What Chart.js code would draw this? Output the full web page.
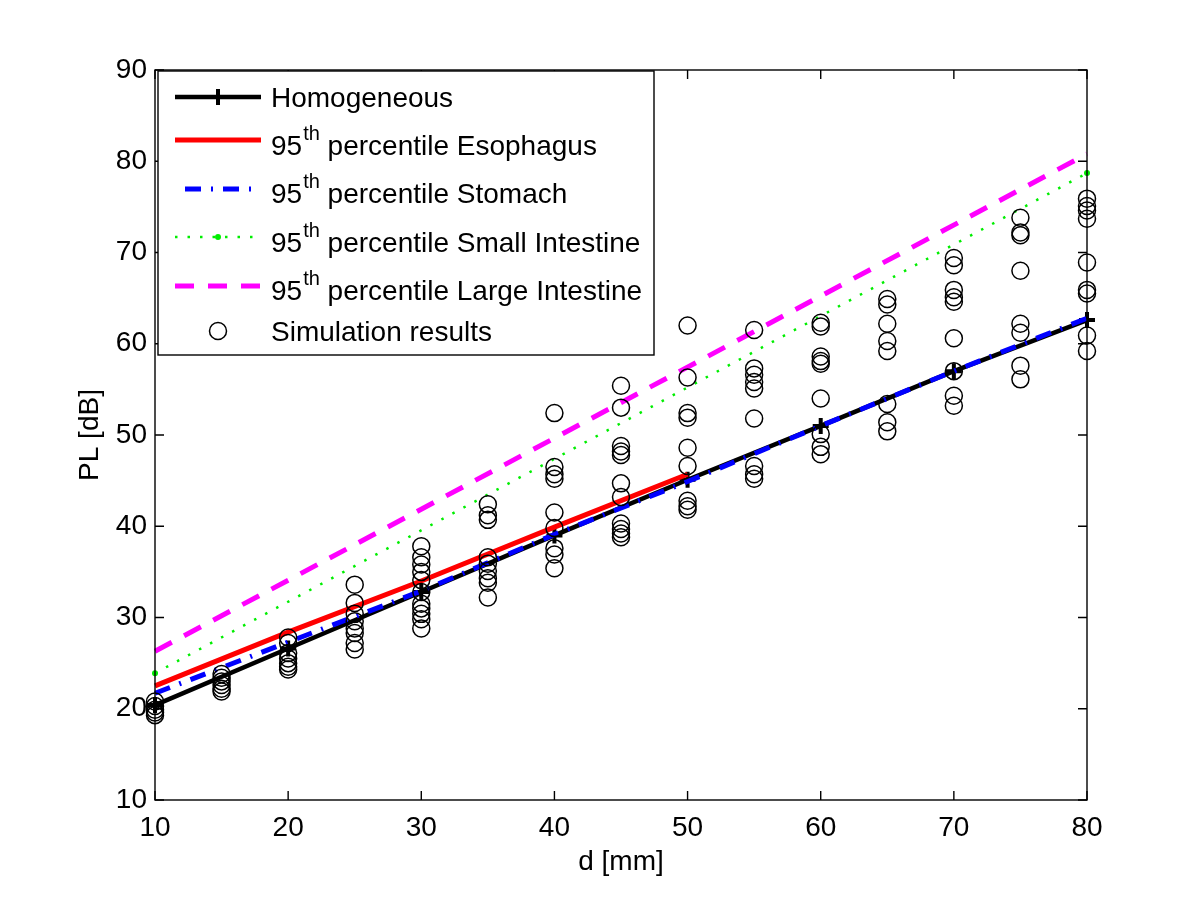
<!DOCTYPE html>
<html>
<head>
<meta charset="utf-8">
<script src="https://cdn.jsdelivr.net/npm/chart.js@4.4.0/dist/chart.umd.min.js"></script>
<style>
html, body { margin: 0; padding: 0; background: #fff; }
</style>
</head>
<body>
<canvas id="chart" width="1200" height="903"></canvas>
<script>
// values
var lineD            = [10, 20, 30, 40, 50, 60, 70, 80];
var homogeneousPL    = [20.4, 26.6, 32.8, 39.0, 45.1, 51.0, 57.0, 62.6];
var esophagusD       = [10, 20, 30, 40, 50];
var esophagusPL      = [22.5, 28.4, 34.0, 39.9, 45.7];
var stomachPL        = [21.7, 27.3, 32.9, 39.1, 44.9, 51.0, 57.0, 62.8];
var intestineD       = [10, 80];
var smallIntestinePL = [23.9, 78.7];
var largeIntestinePL = [26.3, 80.8];

var simD  = [10, 15, 20, 25, 30, 35, 40, 45, 50, 55, 60, 65, 70, 75, 80];
var simPL = [
    [20.8, 20.3, 19.9, 19.6, 19.3],
    [23.8, 23.4, 23.0, 22.6, 22.2, 21.9],
    [27.8, 27.2, 26.1, 25.5, 25.0, 24.6, 24.3],
    [33.6, 31.6, 30.4, 29.6, 28.8, 28.3, 27.2, 26.5],
    [37.8, 36.6, 35.8, 35.0, 34.1, 32.8, 31.5, 31.0, 30.4, 29.8, 28.8],
    [42.4, 41.2, 40.7, 36.6, 35.9, 35.1, 34.3, 33.8, 32.2],
    [52.4, 46.5, 45.7, 45.2, 41.5, 39.8, 37.6, 36.9, 35.4],
    [55.4, 53.0, 48.8, 48.2, 47.8, 44.7, 43.2, 40.3, 39.7, 39.2, 38.8],
    [62.0, 56.3, 52.4, 51.9, 48.6, 46.6, 42.8, 42.2, 41.8],
    [61.5, 57.3, 56.6, 55.8, 55.1, 51.8, 46.6, 45.7, 45.2],
    [62.3, 61.9, 58.6, 58.1, 57.8, 54.0, 50.1, 48.7, 47.9],
    [64.9, 64.3, 62.2, 60.3, 59.2, 53.4, 51.4, 50.4],
    [69.4, 68.6, 65.9, 65.1, 64.6, 60.6, 57.0, 54.3, 53.2],
    [73.8, 72.2, 71.9, 68.0, 62.2, 61.2, 57.6, 56.1],
    [75.9, 75.1, 74.6, 73.7, 68.9, 65.9, 65.5, 60.9, 59.2]
];

var FONT = '"Liberation Sans", Arial, Helvetica, sans-serif';

var pts = function(xs, ys) {
    return xs.map(function(x, i) { return {x: x, y: ys[i]}; });
};

var simPoints = [];
simD.forEach(function(d, i) {
    simPL[i].forEach(function(v) { simPoints.push({x: d, y: v}); });
});

// box + inward ticks on all four sides, like the original figure
var frame = {
    id: 'frame',
    afterDatasetsDraw: function(chart) {
        var ctx = chart.ctx, a = chart.chartArea;
        var xs = chart.scales.x, ys = chart.scales.y;
        ctx.save();
        ctx.strokeStyle = '#000';
        ctx.lineWidth = 1.4;
        ctx.setLineDash([]);
        ctx.strokeRect(a.left, a.top, a.right - a.left, a.bottom - a.top);
        ctx.beginPath();
        xs.ticks.forEach(function(t) {
            var px = xs.getPixelForValue(t.value);
            ctx.moveTo(px, a.bottom); ctx.lineTo(px, a.bottom - 9);
            ctx.moveTo(px, a.top);    ctx.lineTo(px, a.top + 9);
        });
        ys.ticks.forEach(function(t) {
            var py = ys.getPixelForValue(t.value);
            ctx.moveTo(a.left, py);  ctx.lineTo(a.left + 9, py);
            ctx.moveTo(a.right, py); ctx.lineTo(a.right - 9, py);
        });
        ctx.stroke();
        ctx.restore();
    },
    afterDraw: function(chart) {
        var ctx = chart.ctx;
        var box = {x: 158, y: 71, w: 496, h: 284};
        var textY   = [97, 145, 193, 242, 290, 331];
        var sampleY = [97, 140, 189, 237, 286, 331];
        ctx.save();
        ctx.fillStyle = '#fff';
        ctx.fillRect(box.x, box.y, box.w, box.h);
        ctx.strokeStyle = '#000';
        ctx.lineWidth = 1.4;
        ctx.strokeRect(box.x, box.y, box.w, box.h);

        chart.data.datasets.forEach(function(ds, i) {
            var sy = sampleY[i];
            if (ds.showLine) {
                ctx.beginPath();
                ctx.setLineDash(ds.borderDash || []);
                ctx.lineDashOffset = ds.legendDashOffset || 0;
                ctx.lineWidth = ds.borderWidth;
                ctx.strokeStyle = ds.borderColor;
                ctx.lineCap = 'butt';
                ctx.moveTo(175, sy);
                ctx.lineTo(261, sy);
                ctx.stroke();
                ctx.setLineDash([]);
                ctx.lineDashOffset = 0;
            }
            if (ds.pointStyle === 'cross') {
                ctx.beginPath();
                ctx.lineWidth = ds.pointBorderWidth;
                ctx.strokeStyle = ds.borderColor;
                ctx.moveTo(218 - ds.pointRadius, sy); ctx.lineTo(218 + ds.pointRadius, sy);
                ctx.moveTo(218, sy - ds.pointRadius); ctx.lineTo(218, sy + ds.pointRadius);
                ctx.stroke();
            } else if (ds.pointRadius > 0) {
                ctx.beginPath();
                ctx.lineWidth = ds.pointBorderWidth;
                ctx.strokeStyle = ds.pointBorderColor;
                ctx.fillStyle = ds.pointBackgroundColor;
                ctx.arc(218, sy, ds.pointRadius, 0, Math.PI * 2);
                ctx.fill();
                if (ds.pointBorderWidth > 0) ctx.stroke();
            }

            // label, with superscript "th" for the percentile rows
            var base = textY[i] + 10;
            var x = 271;
            ctx.fillStyle = '#000';
            ctx.textBaseline = 'alphabetic';
            ctx.textAlign = 'left';
            var m = ds.label.match(/^(\d+)th(.*)$/);
            if (m) {
                ctx.font = '28px ' + FONT;
                ctx.fillText(m[1], x, base);
                x += ctx.measureText(m[1]).width + 1;
                ctx.font = '20px ' + FONT;
                ctx.fillText('th', x, base - 15);
                x += ctx.measureText('th').width;
                ctx.font = '28px ' + FONT;
                ctx.fillText(m[2], x, base);
            } else {
                ctx.font = '28px ' + FONT;
                ctx.fillText(ds.label, x, base);
            }
        });
        ctx.restore();
    }
};

new Chart(document.getElementById('chart'), {
    type: 'scatter',
    data: {
        datasets: [
            {
                label: 'Homogeneous',
                data: pts(lineD, homogeneousPL),
                showLine: true,
                borderColor: '#000',
                backgroundColor: '#000',
                borderWidth: 4.5,
                pointStyle: 'cross',
                pointRadius: 8,
                pointBorderWidth: 4,
                pointBorderColor: '#000',
                order: 6,
                clip: false
            },
            {
                label: '95th percentile Esophagus',
                data: pts(esophagusD, esophagusPL),
                showLine: true,
                borderColor: '#ff0000',
                borderWidth: 5,
                pointRadius: 0,
                order: 5,
                clip: false
            },
            {
                label: '95th percentile Stomach',
                data: pts(lineD, stomachPL),
                showLine: true,
                borderColor: '#0000ff',
                borderWidth: 5,
                borderDash: [16, 10, 2, 10],
                legendDashOffset: 28,
                pointRadius: 0,
                order: 4,
                clip: false
            },
            {
                label: '95th percentile Small Intestine',
                data: pts(intestineD, smallIntestinePL),
                showLine: true,
                borderColor: '#00ee00',
                borderWidth: 2.5,
                borderDash: [2.5, 10],
                pointStyle: 'circle',
                pointRadius: 3,
                pointBorderWidth: 0,
                pointBorderColor: '#00ee00',
                pointBackgroundColor: '#00ee00',
                order: 3,
                clip: false
            },
            {
                label: '95th percentile Large Intestine',
                data: pts(intestineD, largeIntestinePL),
                showLine: true,
                borderColor: '#ff00ff',
                borderWidth: 5,
                borderDash: [19, 14],
                pointRadius: 0,
                order: 2,
                clip: false
            },
            {
                label: 'Simulation results',
                data: simPoints,
                showLine: false,
                pointStyle: 'circle',
                pointRadius: 8.5,
                pointBorderWidth: 1.5,
                pointBorderColor: '#000',
                pointBackgroundColor: 'rgba(0,0,0,0)',
                borderColor: '#000',
                backgroundColor: 'rgba(0,0,0,0)',
                order: 1,
                clip: false
            }
        ]
    },
    options: {
        responsive: false,
        animation: false,
        devicePixelRatio: 1,
        layout: { padding: { top: 70, right: 113, left: 0, bottom: 0 } },
        plugins: {
            legend: { display: false },
            tooltip: { enabled: false }
        },
        scales: {
            x: {
                type: 'linear',
                min: 10,
                max: 80,
                ticks: { stepSize: 10, color: '#000', padding: 11, font: { family: FONT, size: 28 } },
                grid: { display: false, drawTicks: false },
                border: { display: false },
                title: { display: true, text: 'd [mm]', color: '#000', padding: { bottom: 24 }, font: { family: FONT, size: 28 } },
                afterFit: function(s) { s.height = 103; }
            },
            y: {
                type: 'linear',
                min: 10,
                max: 90,
                ticks: { stepSize: 10, color: '#000', padding: 8, font: { family: FONT, size: 28 } },
                grid: { display: false, drawTicks: false },
                border: { display: false },
                title: { display: true, text: 'PL [dB]', color: '#000', padding: { top: 73 }, font: { family: FONT, size: 28 } },
                afterFit: function(s) { s.width = 155; }
            }
        }
    },
    plugins: [frame]
});
</script>
</body>
</html>
